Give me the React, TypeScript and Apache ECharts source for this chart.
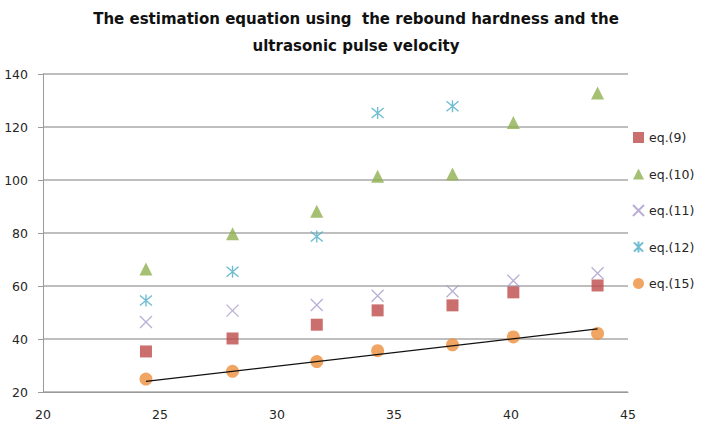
import React, { useEffect, useRef } from "react";
import * as echarts from "echarts";

// Compressive strength estimates (MPa) against measured strength
const xValues = [24.4, 28.1, 31.7, 34.3, 37.5, 40.1, 43.7];
const eq9 = [35.3, 40.2, 45.4, 50.8, 52.7, 57.6, 60.2];
const eq10 = [66.4, 79.7, 88.2, 101.4, 102.3, 121.7, 132.8];
const eq11 = [46.4, 50.7, 52.8, 56.3, 58.0, 62.0, 64.8];
const eq12 = [54.5, 65.4, 78.7, 125.3, 127.8];
const eq15 = [24.9, 27.8, 31.5, 35.6, 37.8, 40.8, 42.1];

// Linear trend line through eq.(15)
const trendX = [24.4, 43.7];
const trendY = [24.0, 43.8];

const seriesNames = ["eq.(9)", "eq.(10)", "eq.(11)", "eq.(12)", "eq.(15)"];
const yTicks = { min: 20, max: 140, interval: 20 };
const xTicks = { min: 20, max: 45, interval: 5 };

const CROSS = "path://M0,0L10,10M10,0L0,10";
const STAR = "path://M0,0L10,10M10,0L0,10M5,-1L5,11";

const FONT = "'DejaVu Sans', sans-serif";

function pairs(xs: number[], ys: number[]) {
  return ys.map((y, i) => [xs[i], y]);
}

export default function App() {
  const ref = useRef<HTMLDivElement>(null);

  useEffect(() => {
    if (!ref.current) return;
    const chart = echarts.init(ref.current, null, { renderer: "svg" });
    chart.setOption({
      animation: false,
      backgroundColor: "#ffffff",
      title: {
        text: "The estimation equation using  the rebound hardness and the\nultrasonic pulse velocity",
        left: 351,
        textAlign: "center",
        top: 0,
        textStyle: {
          fontFamily: FONT,
          fontWeight: "bold",
          fontSize: 15,
          lineHeight: 27,
          color: "#111111",
        },
      },
      grid: { left: 43, right: 77, top: 74, bottom: 34 },
      legend: {
        orient: "vertical",
        left: 627,
        top: 126,
        itemWidth: 11,
        itemHeight: 11,
        itemGap: 23.5,
        data: seriesNames,
        textStyle: { fontFamily: FONT, fontSize: 12.5, color: "#262626" },
      },
      xAxis: {
        type: "value",
        ...xTicks,
        axisLine: { show: true, lineStyle: { color: "#9a9a9a", width: 1 } },
        axisTick: { show: false },
        splitLine: { show: false },
        axisLabel: { margin: 16, fontFamily: FONT, fontSize: 12.5, color: "#262626" },
      },
      yAxis: {
        type: "value",
        ...yTicks,
        axisLine: { show: true, lineStyle: { color: "#9a9a9a", width: 1 } },
        axisTick: { show: true, length: 5, lineStyle: { color: "#9a9a9a" } },
        splitLine: { show: true, lineStyle: { color: "#a8a8a8", width: 1.5 } },
        axisLabel: { margin: 15, fontFamily: FONT, fontSize: 12.5, color: "#262626" },
      },
      series: [
        {
          name: "eq.(9)",
          type: "scatter",
          symbol: "rect",
          symbolSize: 12,
          itemStyle: { color: "#bd4b48" },
          data: pairs(xValues, eq9),
        },
        {
          name: "eq.(10)",
          type: "scatter",
          symbol: "triangle",
          symbolSize: 13,
          itemStyle: { color: "#8fb04f" },
          data: pairs(xValues, eq10),
        },
        {
          name: "eq.(11)",
          type: "scatter",
          symbol: CROSS,
          symbolSize: 12,
          itemStyle: { color: "transparent", borderColor: "#a79bca", borderWidth: 1.3 },
          data: pairs(xValues, eq11),
        },
        {
          name: "eq.(12)",
          type: "scatter",
          symbol: STAR,
          symbolSize: 12,
          itemStyle: { color: "transparent", borderColor: "#4bacc6", borderWidth: 1.4 },
          data: pairs(xValues, eq12),
        },
        {
          name: "eq.(15)",
          type: "scatter",
          symbol: "circle",
          symbolSize: 13,
          itemStyle: { color: "#ec8f3c" },
          data: pairs(xValues, eq15),
        },
        {
          name: "trend",
          type: "line",
          showSymbol: false,
          symbol: "none",
          z: 5,
          lineStyle: { color: "#111111", width: 1.2 },
          data: pairs(trendX, trendY),
        },
      ],
    });
    return () => chart.dispose();
  }, []);

  return (
    <div
      ref={ref}
      style={{ position: "fixed", left: 0, top: 0, width: 705, height: 426 }}
    />
  );
}
